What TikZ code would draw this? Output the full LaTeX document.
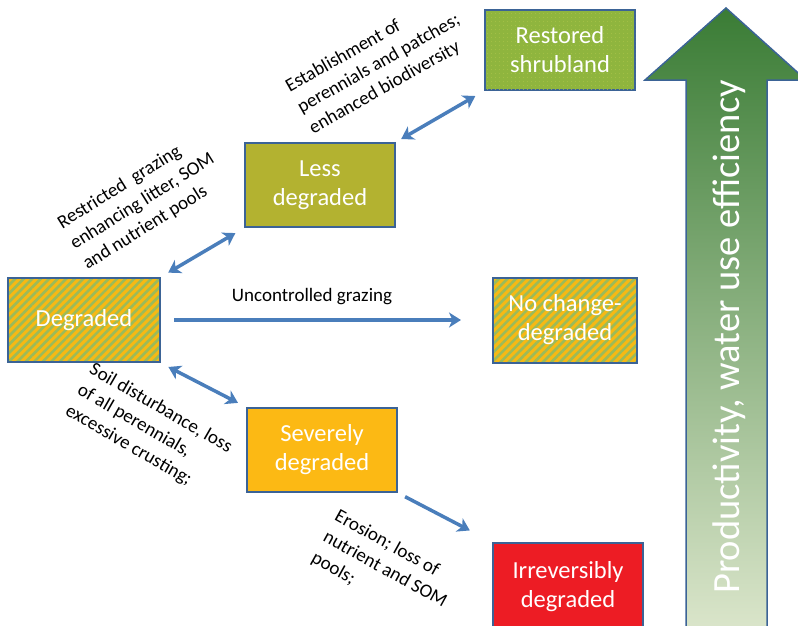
\documentclass[tikz,border=0pt]{standalone}
\usepackage{fontspec}
\setmainfont{Carlito}
\usetikzlibrary{arrows.meta,patterns.meta,calc}
\definecolor{boxline}{HTML}{3B6396}
\definecolor{arrblue}{HTML}{4A7EBB}
\definecolor{restfill}{HTML}{8FB53E}
\definecolor{restdot}{HTML}{A9C34A}
\definecolor{lessfill}{HTML}{B3B230}
\definecolor{hatchbg}{HTML}{F6B914}
\definecolor{hatchln}{HTML}{9BBB59}
\definecolor{sevfill}{HTML}{FCB914}
\definecolor{irrfill}{HTML}{ED1C24}
\definecolor{bigtop}{HTML}{3A7C35}
\definecolor{bigmid}{HTML}{9DBD5F}
\definecolor{bigbot}{HTML}{DDE7CD}
\definecolor{bigline}{HTML}{3B6396}
\tikzset{
  statebox/.style={draw=boxline, line width=2pt, minimum width=#1, text=white,
    font=\fontsize{24.5}{29}\selectfont, align=center, inner sep=0pt},
  statebox/.default=150pt,
  hatched/.style={preaction={fill=hatchbg}, pattern={Lines[angle=45,distance=6pt,line width=2.6pt]}, pattern color=hatchln},
  conn/.style={draw=arrblue, line width=3.5pt},
  tip/.tip={Stealth[length=12pt,width=15pt,inset=3.5pt]},
  note/.style={font=\fontsize{19}{24}\selectfont, align=left, inner sep=0pt, anchor=north west, text=black}
}
\begin{document}
\begin{tikzpicture}[x=1pt,y=-1pt]
\useasboundingbox (0,0) rectangle (798,625);
% big arrow
\shade[top color=bigtop, middle color=bigmid, bottom color=bigbot, draw=bigline, line width=1.5pt]
  (726,8) -- (806,80) -- (767,80) -- (767,640) -- (686,640) -- (686,80) -- (645,80) -- cycle;
\node[rotate=90, text=white, font=\fontsize{38.5}{44}\selectfont, inner sep=0pt] (bigtext) at (729,337) {Productivity, water use efficiency};
% boxes
\node[statebox, minimum height=80pt, fill=restfill, postaction={pattern={Dots[distance=4pt,radius=0.6pt]}, pattern color=restdot}] (rest) at (560,50) {Restored\\shrubland};
\node[statebox, minimum height=84pt, fill=lessfill] (less) at (320,185) {Less\\degraded};
\node[statebox=152pt, minimum height=84pt, hatched] (deg) at (84,320) {Degraded};
\node[statebox=144pt, minimum height=85pt, hatched] (noc) at (565,320) {No change-\\degraded};
\node[statebox, minimum height=84pt, fill=sevfill] (sev) at (322,450) {Severely\\degraded};
\node[statebox, minimum height=100pt, fill=irrfill] (irr) at (568,593) {};
\node[text=white, font=\fontsize{24.5}{29}\selectfont, align=center, inner sep=0pt] (irrtext) at (568,587) {Irreversibly\\degraded};
% connectors
\draw[conn, {tip}-{tip}, shorten <=6pt, shorten >=10pt] (less.north east) -- (rest.south west);
\draw[conn, {tip}-{tip}, shorten <=8pt, shorten >=10pt] (deg.north east) -- (less.south west);
\draw[conn, -{tip}, shorten <=13pt, shorten >=31pt] (deg.east) -- (noc.west);
\draw[conn, {tip}-{tip}, shorten <=8pt, shorten >=9pt] (deg.south east) -- (sev.north west);
\draw[conn, -{tip}, shorten <=8pt, shorten >=25pt] (sev.south east) -- (irr.north west);
% labels
\node[note, rotate=32] (lrestr) at (55,218) {Restricted\ \ grazing\\enhancing litter, SOM\\and nutrient pools};
\node[note, rotate=29.5] (lestab) at (283,81) {Establishment of\\perennials and patches;\\enhanced biodiversity};
\node[font=\fontsize{19}{24}\selectfont, inner sep=0pt] (lunc) at (312,297) {Uncontrolled grazing};
\node[note, rotate=-30] (lsoil) at (95,361) {Soil disturbance, loss\\of all perennials,\\excessive crusting;};
\node[note, rotate=-29] (leros) at (340,508) {Erosion; loss of\\nutrient and SOM\\pools;};
\end{tikzpicture}
\end{document}
